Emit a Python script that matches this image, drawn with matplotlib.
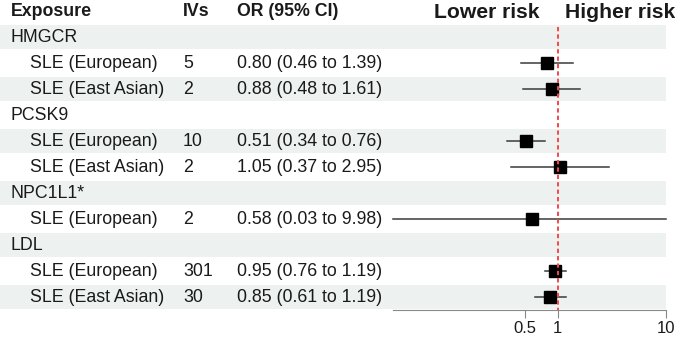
import numpy as np
import matplotlib
matplotlib.use("Agg")
import matplotlib.pyplot as plt

plt.rcParams['font.family'] = ['Liberation Sans', 'DejaVu Sans']

# table rows (group header rows have no estimate)
labels = ["HMGCR", "SLE (European)", "SLE (East Asian)",
          "PCSK9", "SLE (European)", "SLE (East Asian)",
          "NPC1L1*", "SLE (European)",
          "LDL", "SLE (European)", "SLE (East Asian)"]
is_group = [True, False, False, True, False, False, True, False, True, False, False]
ivs = ["", "5", "2", "", "10", "2", "", "2", "", "301", "30"]
orv = [np.nan, 0.80, 0.88, np.nan, 0.51, 1.05, np.nan, 0.58, np.nan, 0.95, 0.85]
lo = [np.nan, 0.46, 0.48, np.nan, 0.34, 0.37, np.nan, 0.03, np.nan, 0.76, 0.61]
hi = [np.nan, 1.39, 1.61, np.nan, 0.76, 2.95, np.nan, 9.98, np.nan, 1.19, 1.19]
xticks = [0.5, 1, 10]
xtick_labels = ["0.5", "1", "10"]

W, H = 678, 339
row_h = 26
top = 24
n = len(labels)

fig = plt.figure(figsize=(W / 100, H / 100), dpi=100)

# background / table axes in pixel units
bg = fig.add_axes([0, 0, 1, 1])
bg.set_xlim(0, W)
bg.set_ylim(H, 0)
bg.axis("off")

shade = "#edf1f0"
txt = "#1a1a1a"
for i in range(n):
    y0 = top + i * row_h
    yc = y0 + row_h / 2
    if i % 2 == 0:
        bg.fill_between([0, 666], y0 + 1, y0 + row_h - 1, color=shade, lw=0, zorder=0)
    xl = 11 if is_group[i] else 30
    bg.text(xl, yc, labels[i], fontsize=12.8, color=txt, va="center", ha="left")
    if not is_group[i]:
        bg.text(183, yc, ivs[i], fontsize=12.8, color=txt, va="center", ha="left")
        bg.text(237, yc, f"{orv[i]:.2f} ({lo[i]:.2f} to {hi[i]:.2f})",
                fontsize=12.8, color=txt, va="center", ha="left")

hy = 12
bg.text(11, hy, "Exposure", fontsize=12.8, fontweight="bold", color=txt, va="center")
bg.text(183, hy, "IVs", fontsize=12.8, fontweight="bold", color=txt, va="center")
bg.text(237, hy, "OR (95% CI)", fontsize=12.8, fontweight="bold", color=txt, va="center")
bg.text(540, hy, "Lower risk", fontsize=15.2, fontweight="bold", color=txt, va="center", ha="right")
bg.text(565, hy, "Higher risk", fontsize=15.2, fontweight="bold", color=txt, va="center", ha="left")

# forest axes
x0, x1 = 393, 666
bottom_px = top + n * row_h
ax = fig.add_axes([x0 / W, 1 - bottom_px / H, (x1 - x0) / W, (bottom_px - top) / H])
ax.patch.set_alpha(0)
ax.set_xscale("log")
ax.set_xlim(0.03, 10)
ax.set_ylim(n - 0.5, -0.5)

rows = np.arange(n)
for i in rows:
    if np.isnan(orv[i]):
        continue
    ax.plot([lo[i], hi[i]], [i, i], color="#3a3a3a", lw=1.1, zorder=2, clip_on=False)
    ax.plot(orv[i], i, marker="s", color="black", ms=8, zorder=3, ls="none")
ax.plot([1, 1], [-0.4, n - 0.5], color="#f24a4a", ls=(0, (2.2, 1.6)), lw=1.4, zorder=4)

for s in ["top", "right", "left"]:
    ax.spines[s].set_visible(False)
ax.spines["bottom"].set_color("#888888")
ax.set_yticks([])
ax.set_xticks(xticks)
ax.set_xticklabels(xtick_labels)
ax.xaxis.set_minor_locator(matplotlib.ticker.NullLocator())
ax.tick_params(axis="x", colors="#888888", labelcolor=txt, labelsize=12, length=6, pad=2)

fig.savefig("out.png", dpi=100)
